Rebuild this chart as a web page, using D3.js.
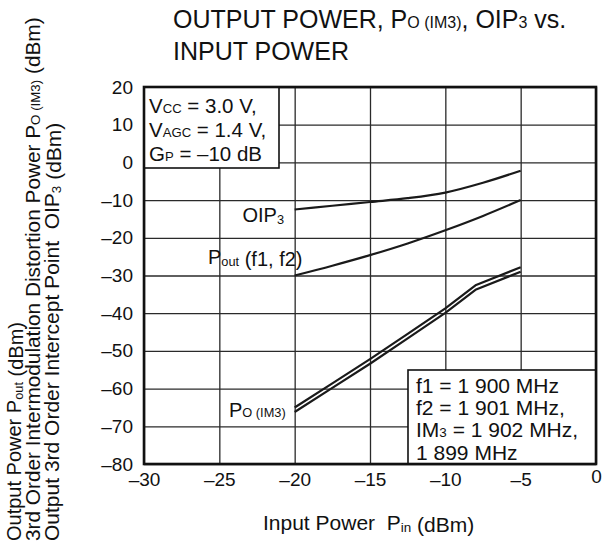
<!DOCTYPE html>
<html>
<head>
<meta charset="utf-8">
<script src="https://cdn.jsdelivr.net/npm/d3@7"></script>
<style>
body { margin: 0; background: #fff; }
text { font-family: "Liberation Sans", Arial, Helvetica, sans-serif; fill: #111; }
</style>
</head>
<body>
<div id="the_chart"></div>
<script>
// values
let pin = [-20, -17.5, -15, -12.5, -10, -7.5, -5];
let oip3 = [-12.5, -11.5, -10.5, -9.5, -8.0, -5.4, -2.2];
let pout = [-30.0, -27.4, -24.6, -21.5, -18.0, -14.2, -10.0];
let pin_im3 = [-20, -17.5, -15, -12.5, -10, -8, -5];
let im3_upper = [-65.0, -58.6, -52.2, -45.5, -38.7, -32.6, -27.8];
let im3_lower = [-66.2, -59.8, -53.4, -46.7, -39.9, -33.8, -29.0];
let x_ticks = [-30, -25, -20, -15, -10, -5, 0];
let y_ticks = [20, 10, 0, -10, -20, -30, -40, -50, -60, -70, -80];

gen_vis();

function gen_vis() {
    var w = 612;
    var h = 545;
    var left = 144, right = 596, top = 87, bottom = 464;

    var xscale = d3.scaleLinear().domain([-30, 0]).range([left, right]);
    var yscale = d3.scaleLinear().domain([-80, 20]).range([bottom, top]);
    var fmt = function(d) { return d < 0 ? "\u2013" + Math.abs(d) : "" + d; };

    var svg = d3.select("#the_chart").append("svg")
        .attr("width", w)
        .attr("height", h);

    // helper for text with small / subscript parts
    function rich(g, x, y, parts, size, anchor) {
        var t = g.append("text")
            .attr("x", x).attr("y", y)
            .attr("font-size", size)
            .attr("text-anchor", anchor || "start")
            .style("white-space", "pre");
        parts.forEach(function(p) {
            var s = t.append("tspan").text(p[0]);
            if (p[1] == "s") {
                s.attr("font-size", size * 0.64);
            } else if (p[1] == "d") {
                s.attr("font-size", size * 0.64).attr("dy", 2);
            }
        });
        return t;
    }

    // grid + tick labels
    var xaxis = d3.axisBottom(xscale)
        .tickValues(x_ticks)
        .tickSize(-(bottom - top))
        .tickPadding(9)
        .tickFormat(fmt);
    var gx = svg.append("g")
        .attr("transform", "translate(0," + bottom + ")")
        .call(xaxis);
    gx.select(".domain").remove();
    gx.selectAll("line").attr("stroke", "#2a2a2a").attr("stroke-width", 1.3);
    gx.selectAll("text").attr("font-size", 19).attr("fill", "#111")
        .attr("font-family", "Liberation Sans, Arial, sans-serif");
    gx.selectAll(".tick").filter(function(d) { return d == 0; })
        .select("text").attr("y", 6);

    var yaxis = d3.axisLeft(yscale)
        .tickValues(y_ticks)
        .tickSize(-(right - left))
        .tickPadding(11)
        .tickFormat(fmt);
    var gy = svg.append("g")
        .attr("transform", "translate(" + left + ",0)")
        .call(yaxis);
    gy.select(".domain").remove();
    gy.selectAll("line").attr("stroke", "#2a2a2a").attr("stroke-width", 1.3);
    gy.selectAll("text").attr("font-size", 19).attr("fill", "#111")
        .attr("font-family", "Liberation Sans, Arial, sans-serif");

    // curves
    var smooth = d3.line()
        .x(function(d) { return xscale(d[0]); })
        .y(function(d) { return yscale(d[1]); })
        .curve(d3.curveMonotoneX);
    var straight = d3.line()
        .x(function(d) { return xscale(d[0]); })
        .y(function(d) { return yscale(d[1]); });
    var series = [
        {pts: d3.zip(pin, oip3), gen: smooth},
        {pts: d3.zip(pin, pout), gen: smooth},
        {pts: d3.zip(pin_im3, im3_upper), gen: straight},
        {pts: d3.zip(pin_im3, im3_lower), gen: straight}
    ];
    svg.selectAll("path.curve")
        .data(series)
        .enter().append("path")
        .attr("class", "curve")
        .attr("d", function(s) { return s.gen(s.pts); })
        .attr("fill", "none")
        .attr("stroke", "#1a1a1a")
        .attr("stroke-width", 2.2)
        .attr("stroke-linejoin", "round");

    // curve labels
    rich(svg, 284, 222, [["OIP"], ["3", "d"]], 20, "end");
    rich(svg, 208, 264, [["P"], ["out", "d"], [" (f1, f2)"]], 20);
    rich(svg, 229, 417, [["P"], ["O (IM3)", "s"]], 20);

    // condition box
    svg.append("rect")
        .attr("x", left).attr("y", top)
        .attr("width", 135).attr("height", 81)
        .attr("fill", "#fff")
        .attr("stroke", "#111")
        .attr("stroke-width", 1.6);
    rich(svg, 149, 113, [["V"], ["CC", "s"], [" = 3.0 V,"]], 20.5);
    rich(svg, 149, 137, [["V"], ["AGC", "s"], [" = 1.4 V,"]], 20.5);
    rich(svg, 149, 161, [["G"], ["P", "s"], [" = \u201310 dB"]], 20.5);

    // frequency box
    svg.append("rect")
        .attr("x", 408).attr("y", 370)
        .attr("width", right - 408).attr("height", bottom - 370)
        .attr("fill", "#fff")
        .attr("stroke", "#111")
        .attr("stroke-width", 1.6);
    rich(svg, 416, 393, [["f1 = 1 900 MHz"]], 21);
    rich(svg, 416, 415, [["f2 = 1 901 MHz,"]], 21);
    rich(svg, 416, 437, [["IM"], ["3", "s"], [" = 1 902 MHz,"]], 21);
    rich(svg, 416, 460, [["1 899 MHz"]], 21);

    // frame
    svg.append("rect")
        .attr("x", left).attr("y", top)
        .attr("width", right - left).attr("height", bottom - top)
        .attr("fill", "none")
        .attr("stroke", "#111")
        .attr("stroke-width", 2.6);

    // title
    rich(svg, 173, 28, [["OUTPUT POWER, P"], ["O (IM3)", "s"], [", OIP"], ["3", "s"], [" vs."]], 25);
    rich(svg, 173, 60, [["INPUT POWER"]], 25);

    // x title
    rich(svg, 263, 530, [["Input Power  P"], ["in", "d"], [" (dBm)"]], 21);

    // y titles
    var ytitles = [
        [21, 20, [["Output Power P"], ["out", "d"], [" (dBm)"]]],
        [40, 20.8, [["3rd Order Intermodulation Distortion Power P"], ["O (IM3)", "s"], [" (dBm)"]]],
        [59, 21, [["Output 3rd Order Intercept Point  OIP"], ["3", "d"], [" (dBm)"]]]
    ];
    ytitles.forEach(function(t) {
        var g = svg.append("g")
            .attr("transform", "translate(" + t[0] + ",541) rotate(-90)");
        rich(g, 0, 0, t[2], t[1]);
    });
}
</script>
</body>
</html>
